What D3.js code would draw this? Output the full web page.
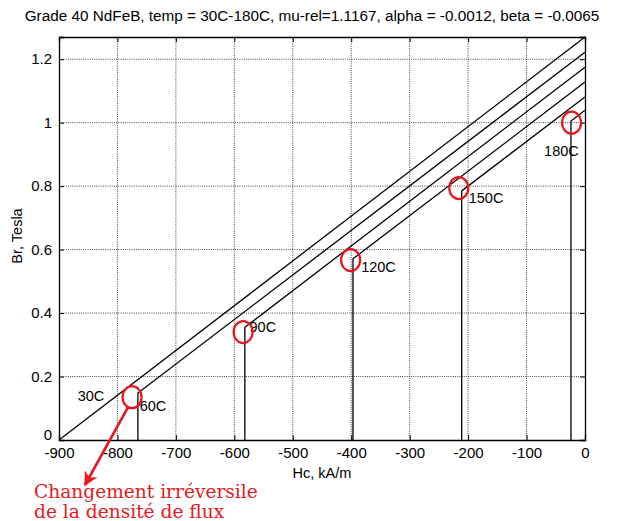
<!DOCTYPE html>
<html><head><meta charset="utf-8">
<script src="https://cdn.jsdelivr.net/npm/d3@7"></script>
<style>body{margin:0;background:#fff}svg{display:block}</style>
</head><body>
<script>
// ---- data ----
const title = "Grade 40 NdFeB, temp = 30C-180C, mu-rel=1.1167, alpha = -0.0012, beta = -0.0065";
const temps = ["30C", "60C", "90C", "120C", "150C", "180C"];
const brAtZero = [1.27, 1.222, 1.175, 1.128, 1.081, 1.039];      // B at H = 0
const startH = [-900, -765, -582, -397, -211, -24];              // knee H (kA/m)
const startB = [0, 0.148, 0.355, 0.571, 0.785, 1.005];           // B at knee (T)
const circleH = [-775, -585, -401, -216, -23];                   // red circle marks
const circleB = [0.135, 0.34, 0.567, 0.794, 1.0];
const xTicks = [-900, -800, -700, -600, -500, -400, -300, -200, -100, 0];
const yTicks = [0, 0.2, 0.4, 0.6, 0.8, 1, 1.2];
const labelH = [-868, -762, -574, -383, -199, -70];
const labelB = [0.135, 0.104, 0.353, 0.54, 0.759, 0.907];
const annotation = ["Changement irréversile", "de la densité de flux"];

// ---- layout ----
const W = 619, H = 521;
const m = {left: 59, right: 585, top: 37, bottom: 440};
const svg = d3.select("body").append("svg").attr("width", W).attr("height", H);
const x = d3.scaleLinear().domain([-900, 0]).range([m.left, m.right]);
const y = d3.scaleLinear().domain([0, 1.27]).range([m.bottom, m.top]);
const font = "Liberation Sans, Arial, sans-serif";

// grid
const g = svg.append("g");
g.selectAll(".gx").data(xTicks.slice(1, -1)).enter().append("line")
  .attr("x1", d => x(d)).attr("x2", d => x(d)).attr("y1", m.top).attr("y2", m.bottom)
  .attr("stroke", "#333").attr("stroke-width", 0.9).attr("stroke-dasharray", "1,1.2");
g.selectAll(".gy").data(yTicks.slice(1)).enter().append("line")
  .attr("y1", d => y(d)).attr("y2", d => y(d)).attr("x1", m.left).attr("x2", m.right)
  .attr("stroke", "#333").attr("stroke-width", 0.9).attr("stroke-dasharray", "1,1.2");

// axes
const fmt = d => String(d);
const xAxis = svg.append("g").attr("transform", `translate(0,${m.bottom})`)
  .call(d3.axisBottom(x).tickValues(xTicks).tickSize(-5).tickPadding(8).tickFormat(fmt));
const yAxis = svg.append("g").attr("transform", `translate(${m.left},0)`)
  .call(d3.axisLeft(y).tickValues(yTicks).tickSize(-5).tickPadding(7).tickFormat(fmt));
svg.append("g").attr("transform", `translate(0,${m.top})`)
  .call(d3.axisTop(x).tickValues(xTicks).tickSize(-5).tickFormat(""));
svg.append("g").attr("transform", `translate(${m.right},0)`)
  .call(d3.axisRight(y).tickValues(yTicks).tickSize(-5).tickFormat(""));
svg.selectAll(".domain").attr("stroke", "#000").attr("stroke-width", 1.3);
svg.selectAll(".tick line").attr("stroke", "#000");
svg.selectAll(".tick text").attr("font-family", font).attr("font-size", 15).attr("fill", "#000");
xAxis.selectAll(".tick text").attr("dy", "0.65em");
yAxis.selectAll(".tick text").attr("dy", "0.3em");
yAxis.selectAll(".tick").filter(d => d === 0).select("text").attr("dy", "-0.05em");

// curves
const curves = temps.map((t, i) => {
  const pts = [];
  if (startB[i] > 0) pts.push([startH[i], 0]);
  pts.push([startH[i], startB[i]]);
  pts.push([0, brAtZero[i]]);
  return pts;
});
const line = d3.line().x(d => x(d[0])).y(d => y(d[1]));
svg.append("g").selectAll("path").data(curves).enter().append("path")
  .attr("d", line).attr("fill", "none").attr("stroke", "#000").attr("stroke-width", 1.3);

// temperature labels
svg.append("g").selectAll("text").data(temps).enter().append("text")
  .attr("x", (d, i) => x(labelH[i])).attr("y", (d, i) => y(labelB[i]))
  .attr("font-family", font).attr("font-size", 14.5).attr("fill", "#000")
  .attr("dominant-baseline", "middle").text(d => d);

// red circles
svg.append("g").selectAll("ellipse").data(circleH).enter().append("ellipse")
  .attr("cx", d => x(d)).attr("cy", (d, i) => y(circleB[i])).attr("rx", 9.5).attr("ry", 11)
  .attr("fill", "none").attr("stroke", "#e8141b").attr("stroke-width", 2.2);

// title & axis labels
svg.append("text").attr("x", 312).attr("y", 17).attr("text-anchor", "middle")
  .attr("dominant-baseline", "middle").attr("font-family", font).attr("font-size", 15.3)
  .text(title);
svg.append("text").attr("x", 322).attr("y", 474).attr("text-anchor", "middle")
  .attr("dominant-baseline", "middle").attr("font-family", font).attr("font-size", 14.5)
  .text("Hc, kA/m");
svg.append("text").attr("transform", "translate(18,236) rotate(-90)").attr("text-anchor", "middle")
  .attr("dominant-baseline", "middle").attr("font-family", font).attr("font-size", 14.5)
  .text("Br, Tesla");

// red arrow
const red = "#e5191e";
const defs = svg.append("defs");
defs.append("marker").attr("id", "ah").attr("viewBox", "0 0 10 10").attr("refX", 9).attr("refY", 5)
  .attr("markerWidth", 5.5).attr("markerHeight", 5.5).attr("orient", "auto")
  .append("path").attr("d", "M0,0 L10,5 L0,10 L3,5 Z").attr("fill", red);
const a0 = [x(circleH[0]) - 4, y(circleB[0]) + 10];
svg.append("line").attr("x1", a0[0]).attr("y1", a0[1]).attr("x2", 85).attr("y2", 485)
  .attr("stroke", red).attr("stroke-width", 2.6).attr("marker-end", "url(#ah)");
svg.append("g").selectAll("text").data(annotation).enter().append("text")
  .attr("x", 34).attr("y", (d, i) => 498 + i * 20)
  .attr("font-family", "DejaVu Serif, serif").attr("font-size", 18.6).attr("fill", red)
  .text(d => d);
</script>
</body></html>
